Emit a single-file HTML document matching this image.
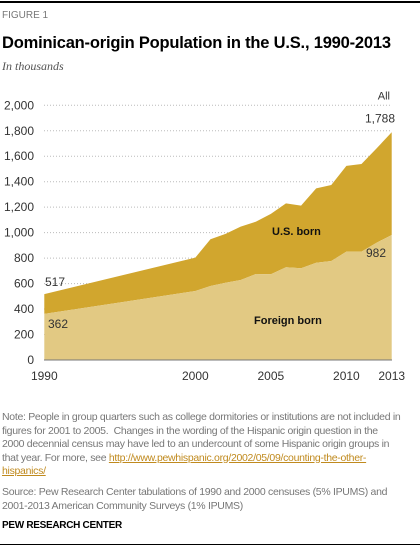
<!DOCTYPE html>
<html><head><meta charset="utf-8"><style>
body{margin:0;background:#fff;font-family:"Liberation Sans",sans-serif;}
#wrap{position:relative;width:420px;height:550px;overflow:hidden;}
.t{position:absolute;white-space:nowrap;}
</style></head><body>
<div id="wrap">
<div style="position:absolute;left:0;top:1px;width:420px;height:2px;background:#000"></div>
<div class="t" style="left:2px;top:10px;font-size:10px;color:#777;">FIGURE 1</div>
<div class="t" style="left:2px;top:34px;font-size:16.5px;font-weight:bold;color:#000;letter-spacing:-0.2px">Dominican-origin Population in the U.S., 1990-2013</div>
<div class="t" style="left:2px;top:59px;font-size:12px;font-style:italic;font-family:'Liberation Serif',serif;color:#555">In thousands</div>
<svg id="chart" width="420" height="400" style="position:absolute;left:0;top:0" font-family="Liberation Sans, sans-serif"></svg>
<div class="t" style="left:2px;top:411px;font-size:10.5px;line-height:13.5px;color:#777;letter-spacing:-0.3px">Note: People in group quarters such as college dormitories or institutions are not included in<br>figures for 2001 to 2005.&nbsp; Changes in the wording of the Hispanic origin question in the<br>2000 decennial census may have led to an undercount of some Hispanic origin groups in<br>that year. For more, see <span style="color:#c08a1e;text-decoration:underline">http://www.pewhispanic.org/2002/05/09/counting-the-other-<br>hispanics/</span></div>
<div class="t" style="left:2px;top:486px;font-size:10.5px;line-height:13.5px;color:#777;letter-spacing:-0.3px">Source: Pew Research Center tabulations of 1990 and 2000 censuses (5% IPUMS) and<br>2001-2013 American Community Surveys (1% IPUMS)</div>
<div class="t" style="left:2px;top:520px;font-size:10px;font-weight:bold;color:#000;letter-spacing:-0.3px">PEW RESEARCH CENTER</div>
<div style="position:absolute;left:0;top:544px;width:420px;height:1px;background:#000"></div>
</div>
<script>
const years=[1990,2000,2001,2002,2003,2004,2005,2006,2007,2008,2009,2010,2011,2012,2013];
const totalVals=[517,804,948,990,1047,1086,1147,1230,1212,1348,1374,1524,1539,1662,1788];
const foreignVals=[362,542,581,607,628,675,673,728,720,764,777,851,851,921,982];
const yTicks=[0,200,400,600,800,1000,1200,1400,1600,1800,2000];
const xTicks=[1990,2000,2005,2010,2013];
const NS="http://www.w3.org/2000/svg";
const svg=document.getElementById('chart');
const x=v=>44.3+(v-1990)*(391.7-44.3)/23;
const y=v=>360-v*(360-105.3)/2000;
function el(tag,attrs){const e=document.createElementNS(NS,tag);for(const k in attrs)e.setAttribute(k,attrs[k]);svg.appendChild(e);return e;}
yTicks.forEach(t=>{
 if(t>0){const g=el('line',{x1:44,x2:392,y1:y(t),y2:y(t),stroke:'#bbb','stroke-dasharray':'1,2','stroke-width':1});
 
 }
 const l=el('text',{x:34,y:y(t)+4,'text-anchor':'end','font-size':12,fill:'#333'});l.textContent=t.toLocaleString('en-US');
 
 
});
function areaPath(top,bot){let d='';years.forEach((yr,i)=>{d+=(i?'L':'M')+x(yr)+','+y(top[i]);});for(let i=years.length-1;i>=0;i--)d+='L'+x(years[i])+','+y(bot?bot[i]:0);return d+'Z';}
const a1=el('path',{d:areaPath(totalVals,foreignVals),fill:'#d1a62e'});


const a2=el('path',{d:areaPath(foreignVals,null),fill:'#e2c983'});


const ax=el('line',{x1:44,x2:392,y1:360,y2:360,stroke:'#777','stroke-width':1});


xTicks.forEach(t=>{
 const l=el('text',{x:x(t),y:380,'text-anchor':'middle','font-size':12,fill:'#333'});l.textContent=t;
 
 
});
function lab(txt,xx,yy,opt,name){const l=el('text',Object.assign({x:xx,y:yy,'font-size':12,fill:'#333'},opt));l.textContent=txt;
 
 }
const n=years.length-1;
lab(totalVals[0],45,y(totalVals[0])-8,{},'label-total-1990');
lab(foreignVals[0],48,y(foreignVals[0])+14,{},'label-foreign-1990');
lab(totalVals[n].toLocaleString('en-US'),395,y(totalVals[n])-10,{'text-anchor':'end'},'label-total-2013');
lab('All',390,y(totalVals[n])-33,{'text-anchor':'end','font-size':11},'label-all');
lab(foreignVals[n],386,y(foreignVals[n])+22,{'text-anchor':'end'},'label-foreign-2013');
lab('U.S. born',272,235,{'font-weight':'bold','font-size':11,fill:'#111'},'label-us-born');
lab('Foreign born',254,324,{'font-weight':'bold','font-size':11,fill:'#111'},'label-foreign-born');
</script>
</body></html>
